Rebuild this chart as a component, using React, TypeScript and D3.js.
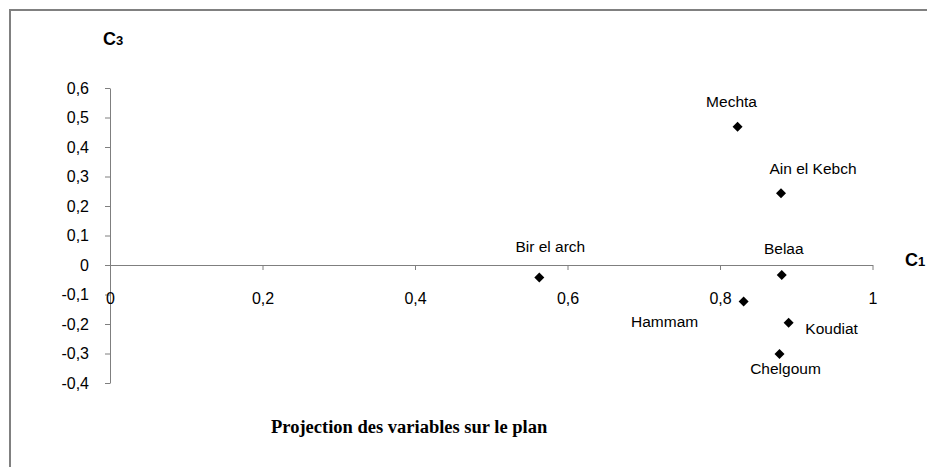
import React, { useEffect, useRef } from 'react';
import * as d3 from 'd3';

// Projection on the C1 / C3 plane
const stations = ['Mechta', 'Ain el Kebch', 'Belaa', 'Bir el arch', 'Hammam', 'Koudiat', 'Chelgoum'];
const c1Values = [0.823, 0.88, 0.881, 0.563, 0.831, 0.89, 0.878];
const c3Values = [0.469, 0.243, -0.034, -0.042, -0.124, -0.196, -0.302];

const xTicks = [0, 0.2, 0.4, 0.6, 0.8, 1];
const yTicks = [-0.4, -0.3, -0.2, -0.1, 0, 0.1, 0.2, 0.3, 0.4, 0.5, 0.6];

// label offsets (px) relative to each marker
const labelOffsets: Record<string, [number, number]> = {
  'Mechta': [-6, -25],
  'Ain el Kebch': [32, -25],
  'Belaa': [2, -27],
  'Bir el arch': [11, -31],
  'Hammam': [-79, 20],
  'Koudiat': [43, 6],
  'Chelgoum': [6, 14],
};

const W = 927;
const H = 467;

const App = () => {
  const ref = useRef<SVGSVGElement>(null);

  useEffect(() => {
    const svg = d3.select(ref.current);
    svg.selectAll('*').remove();

    const locale = d3.formatLocale({
      decimal: ',',
      thousands: ' ',
      grouping: [3],
      currency: ['', ''],
      minus: '-',
    });
    const fmt = locale.format('.1~f');

    const x = d3.scaleLinear().domain([0, 1]).range([110, 872.5]);
    const y = d3.scaleLinear().domain([-0.4, 0.6]).range([383, 88]);

    // outer frame
    svg.append('rect')
      .attr('x', 10).attr('y', 10)
      .attr('width', W + 20).attr('height', H + 20)
      .attr('fill', 'none')
      .attr('stroke', '#808080')
      .attr('stroke-width', 2);

    // y axis
    const yAxis = svg.append('g')
      .attr('transform', `translate(${x(0)},0)`)
      .call(d3.axisLeft(y).tickValues(yTicks).tickFormat(d => fmt(+d)).tickSize(5).tickSizeOuter(0).tickPadding(16));
    yAxis.select('.domain').attr('stroke', '#7f7f7f');
    yAxis.selectAll('line').attr('stroke', '#7f7f7f');
    yAxis.selectAll('text')
      .attr('font-family', 'Liberation Sans, Arial, sans-serif')
      .attr('font-size', 16)
      .attr('fill', '#000');

    // x axis, through the origin
    const xAxis = svg.append('g')
      .attr('transform', `translate(0,${y(0)})`)
      .call(d3.axisBottom(x).tickValues(xTicks).tickFormat(d => fmt(+d)).tickSize(5).tickSizeOuter(0));
    xAxis.select('.domain').attr('stroke', '#7f7f7f');
    xAxis.selectAll('line').attr('stroke', '#7f7f7f');
    xAxis.selectAll('text')
      .attr('y', 28)
      .attr('font-family', 'Liberation Sans, Arial, sans-serif')
      .attr('font-size', 16)
      .attr('fill', '#000');

    // points
    const pts = stations.map((name, i) => ({ name, c1: c1Values[i], c3: c3Values[i] }));

    svg.append('g')
      .selectAll('path')
      .data(pts)
      .enter().append('path')
      .attr('d', d3.symbol(d3.symbolSquare, 50)())
      .attr('transform', d => `translate(${x(d.c1)},${y(d.c3)}) rotate(45)`)
      .attr('fill', '#000');

    svg.append('g')
      .selectAll('text')
      .data(pts)
      .enter().append('text')
      .attr('x', d => x(d.c1) + labelOffsets[d.name][0])
      .attr('y', d => y(d.c3) + labelOffsets[d.name][1])
      .attr('text-anchor', 'middle')
      .attr('dominant-baseline', 'central')
      .attr('font-family', 'Liberation Sans, Arial, sans-serif')
      .attr('font-size', 15.5)
      .attr('fill', '#000')
      .text(d => d.name);

    // axis names
    const c3 = svg.append('text')
      .attr('x', 103).attr('y', 45)
      .attr('font-family', 'Liberation Sans, Arial, sans-serif')
      .attr('font-weight', 'bold')
      .attr('font-size', 18);
    c3.append('tspan').text('C');
    c3.append('tspan').attr('font-size', 13).text('3');

    const c1 = svg.append('text')
      .attr('x', 905).attr('y', 266)
      .attr('font-family', 'Liberation Sans, Arial, sans-serif')
      .attr('font-weight', 'bold')
      .attr('font-size', 18);
    c1.append('tspan').text('C');
    c1.append('tspan').attr('font-size', 13).text('1');

    // caption
    svg.append('text')
      .attr('x', 271).attr('y', 433)
      .attr('font-family', 'Liberation Serif, Times New Roman, serif')
      .attr('font-weight', 'bold')
      .attr('font-size', 18.5)
      .text('Projection des variables sur le plan');
  }, []);

  return (
    <svg
      ref={ref}
      width={W}
      height={H}
      style={{ position: 'absolute', left: 0, top: 0, background: '#fff' }}
    ></svg>
  );
};

export default App;
